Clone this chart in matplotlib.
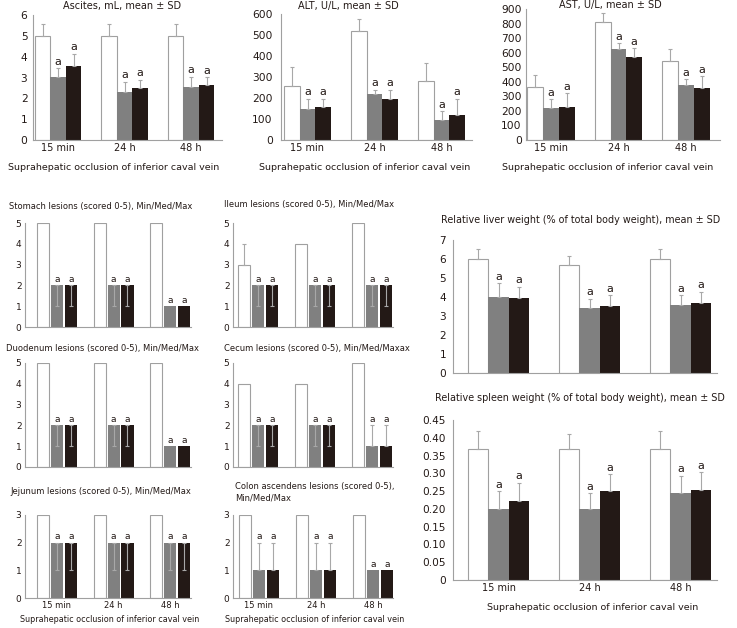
import numpy as np
import matplotlib
matplotlib.use("Agg")
import matplotlib.pyplot as plt

plt.rcParams['font.family'] = ['DejaVu Sans']

W, H = 737, 628
DPI = 100

groups = ['15 min', '24 h', '48 h']
xlabel = 'Suprahepatic occlusion of inferior caval vein'

# mean ± SD panels: control (white), group 2 (grey), group 3 (black)
ascites_ctrl = [5.0, 5.0, 5.0]
ascites_ctrl_sd = [0.55, 0.55, 0.55]
ascites_g2 = [3.0, 2.3, 2.52]
ascites_g2_sd = [0.44, 0.5, 0.52]
ascites_g3 = [3.57, 2.5, 2.62]
ascites_g3_sd = [0.58, 0.4, 0.4]

alt_ctrl = [255, 517, 282]
alt_ctrl_sd = [90, 57, 85]
alt_g2 = [145, 217, 93]
alt_g2_sd = [51, 22, 43]
alt_g3 = [156, 195, 115]
alt_g3_sd = [40, 44, 81]

ast_ctrl = [363, 815, 542]
ast_ctrl_sd = [87, 62, 82]
ast_g2 = [218, 624, 376]
ast_g2_sd = [62, 42, 42]
ast_g3 = [230, 569, 360]
ast_g3_sd = [91, 62, 81]

liver_ctrl = [6.02, 5.66, 6.0]
liver_ctrl_sd = [0.48, 0.5, 0.55]
liver_g2 = [4.02, 3.4, 3.59]
liver_g2_sd = [0.72, 0.52, 0.52]
liver_g3 = [3.95, 3.52, 3.68]
liver_g3_sd = [0.6, 0.58, 0.59]

spleen_ctrl = [0.368, 0.368, 0.368]
spleen_ctrl_sd = [0.051, 0.042, 0.051]
spleen_g2 = [0.201, 0.201, 0.244]
spleen_g2_sd = [0.048, 0.043, 0.049]
spleen_g3 = [0.222, 0.251, 0.253]
spleen_g3_sd = [0.052, 0.046, 0.05]

# lesion scores: median with min/max
stomach_ctrl = [5, 5, 5]
stomach_g2, stomach_g2_min, stomach_g2_max = [2, 2, 1], [1, 1, 1], [2, 2, 1]
stomach_g3, stomach_g3_min, stomach_g3_max = [2, 2, 1], [1, 1, 1], [2, 2, 1]

ileum_ctrl, ileum_ctrl_max = [3, 4, 5], [4, 4, 5]
ileum_g2, ileum_g2_min, ileum_g2_max = [2, 2, 2], [1, 1, 1], [2, 2, 2]
ileum_g3, ileum_g3_min, ileum_g3_max = [2, 2, 2], [1, 1, 1], [2, 2, 2]

duodenum_ctrl = [5, 5, 5]
duodenum_g2, duodenum_g2_min, duodenum_g2_max = [2, 2, 1], [1, 1, 1], [2, 2, 1]
duodenum_g3, duodenum_g3_min, duodenum_g3_max = [2, 2, 1], [1, 1, 1], [2, 2, 1]

cecum_ctrl = [4, 4, 5]
cecum_g2, cecum_g2_min, cecum_g2_max = [2, 2, 1], [1, 1, 1], [2, 2, 2]
cecum_g3, cecum_g3_min, cecum_g3_max = [2, 2, 1], [1, 1, 1], [2, 2, 2]

jejunum_ctrl = [3, 3, 3]
jejunum_g2, jejunum_g2_min, jejunum_g2_max = [2, 2, 2], [1, 1, 1], [2, 2, 2]
jejunum_g3, jejunum_g3_min, jejunum_g3_max = [2, 2, 2], [1, 1, 1], [2, 2, 2]

colon_ctrl = [3, 3, 3]
colon_g2, colon_g2_min, colon_g2_max = [1, 1, 1], [1, 1, 1], [2, 2, 1]
colon_g3, colon_g3_min, colon_g3_max = [1, 1, 1], [1, 1, 1], [2, 2, 1]

WHITE = '#ffffff'
GREY = '#808080'
BLACK = '#231916'
EDGE = '#a0a0a0'
ERR = '#a8a8a8'
SPINE = '#a0a0a0'
INK = '#231916'

fig = plt.figure(figsize=(W / DPI, H / DPI), dpi=DPI)


def px_axes(x0, x1, ytop, ybot):
    # pixel box (top-left origin) -> figure fraction
    return fig.add_axes([x0 / W, 1 - ybot / H, (x1 - x0) / W, (ybot - ytop) / H])


def ftext(x, y, s, size, ha='center'):
    fig.text(x / W, 1 - y / H, s, ha=ha, va='center', fontsize=size, color=INK)


def panel(box, c0, step, bw, gap, ymax, yticks, series, yfs, xfs, a_fs, ypad,
          show_x=False, yfmt=None):
    x0, x1, ytop_px, ybot = box
    ax = px_axes(x0, x1, ytop_px, ybot)
    pos = np.arange(len(groups))
    w = bw / step
    off = (bw + gap) / step
    colors = [WHITE, GREY, BLACK]
    for k, (vals, lo, hi) in enumerate(series):
        xs = pos + (k - 1) * off
        ax.bar(xs, vals, width=w, color=colors[k],
               edgecolor=EDGE if k == 0 else 'none', linewidth=0.8, zorder=2)
        lo = np.asarray(lo, float)
        hi = np.asarray(hi, float)
        m = (lo + hi) > 0
        if m.any():
            ax.errorbar(xs[m], np.asarray(vals, float)[m], yerr=[lo[m], hi[m]],
                        fmt='none', ecolor=ERR, elinewidth=0.8, capsize=1.5,
                        capthick=0.8, zorder=3)
        if k > 0:
            for x, v, h in zip(xs, vals, hi):
                ax.annotate('a', (x, v + h), xytext=(0, 1), textcoords='offset points',
                            ha='center', va='bottom', fontsize=a_fs, color=INK)
    ax.set_xlim((x0 - c0) / step, (x1 - c0) / step)
    ax.set_ylim(0, ymax)
    ax.set_yticks(yticks)
    if yfmt:
        ax.set_yticklabels([yfmt(t) for t in yticks])
    ax.set_xticks(pos)
    ax.set_xticklabels(groups if show_x else [''] * len(groups))
    for s in ['top', 'right']:
        ax.spines[s].set_visible(False)
    for s in ['left', 'bottom']:
        ax.spines[s].set_color(SPINE)
        ax.spines[s].set_linewidth(0.8)
    ax.tick_params(length=0, colors=INK)
    ax.tick_params(axis='y', pad=ypad, labelsize=yfs)
    ax.tick_params(axis='x', pad=2.5, labelsize=xfs)
    return ax


def sd(vals, s):
    return (vals, [0] * len(vals), s)


def mm(vals, vmin, vmax):
    return (vals, [v - a for v, a in zip(vals, vmin)], [b - v for v, b in zip(vals, vmax)])


# top row
TY, TX = 7.7, 7.0
panel((33, 222, 15, 140), 58, 66.5, 15.5, 0, 6, range(0, 7),
      [sd(ascites_ctrl, ascites_ctrl_sd), sd(ascites_g2, ascites_g2_sd), sd(ascites_g3, ascites_g3_sd)],
      TY, TX, 8, 4, show_x=True)
ftext(122, 6, 'Ascites, mL, mean ± SD', 7)
ftext(114, 167, xlabel, 6.8)

panel((281, 472, 14, 139.5), 307.5, 67, 15.7, 0, 600, range(0, 700, 100),
      [sd(alt_ctrl, alt_ctrl_sd), sd(alt_g2, alt_g2_sd), sd(alt_g3, alt_g3_sd)],
      TY, TX, 8, 6, show_x=True)
ftext(348, 6, 'ALT, U/L, mean ± SD', 7)
ftext(365, 167, xlabel, 6.8)

panel((526, 720, 9.3, 140), 551, 67.5, 15.7, 0, 900, range(0, 1000, 100),
      [sd(ast_ctrl, ast_ctrl_sd), sd(ast_g2, ast_g2_sd), sd(ast_g3, ast_g3_sd)],
      TY, TX, 8, 3, show_x=True)
ftext(610, 5, 'AST, U/L, mean ± SD', 7)
ftext(608, 167, xlabel, 6.8)

# lesion panels
LY, LX = 6.5, 6.0
LT = 6.0
panel((25, 191, 223, 327), 57, 56.5, 12, 2, 5, range(0, 6),
      [mm(stomach_ctrl, stomach_ctrl, stomach_ctrl),
       mm(stomach_g2, stomach_g2_min, stomach_g2_max),
       mm(stomach_g3, stomach_g3_min, stomach_g3_max)], LY, LX, 6.5, 2.5)
ftext(101, 207, 'Stomach lesions (scored 0-5), Min/Med/Max', LT)

panel((233, 393, 223, 327), 258, 57, 12, 2, 5, range(0, 6),
      [mm(ileum_ctrl, ileum_ctrl, ileum_ctrl_max),
       mm(ileum_g2, ileum_g2_min, ileum_g2_max),
       mm(ileum_g3, ileum_g3_min, ileum_g3_max)], LY, LX, 6.5, 2.5)
ftext(309, 205, 'Ileum lesions (scored 0-5), Min/Med/Max', LT)

panel((25, 191, 363, 467), 57, 56.5, 12, 2, 5, range(0, 6),
      [mm(duodenum_ctrl, duodenum_ctrl, duodenum_ctrl),
       mm(duodenum_g2, duodenum_g2_min, duodenum_g2_max),
       mm(duodenum_g3, duodenum_g3_min, duodenum_g3_max)], LY, LX, 6.5, 2.5)
ftext(102, 348, 'Duodenum lesions (scored 0-5), Min/Med/Max', LT)

panel((233, 393, 363, 467), 258, 57, 12, 2, 5, range(0, 6),
      [mm(cecum_ctrl, cecum_ctrl, cecum_ctrl),
       mm(cecum_g2, cecum_g2_min, cecum_g2_max),
       mm(cecum_g3, cecum_g3_min, cecum_g3_max)], LY, LX, 6.5, 2.5)
ftext(317, 348, 'Cecum lesions (scored 0-5), Min/Med/Maxax', LT)

panel((25, 191, 515, 598), 57, 56.5, 12, 2, 3, range(0, 4),
      [mm(jejunum_ctrl, jejunum_ctrl, jejunum_ctrl),
       mm(jejunum_g2, jejunum_g2_min, jejunum_g2_max),
       mm(jejunum_g3, jejunum_g3_min, jejunum_g3_max)], LY, LX, 6.5, 2.5, show_x=True)
ftext(101, 492, 'Jejunum lesions (scored 0-5), Min/Med/Max', LT)
ftext(110, 619, xlabel, 5.8)

panel((233, 393, 515, 598), 259, 57, 12, 2, 3, range(0, 4),
      [mm(colon_ctrl, colon_ctrl, colon_ctrl),
       mm(colon_g2, colon_g2_min, colon_g2_max),
       mm(colon_g3, colon_g3_min, colon_g3_max)], LY, LX, 6.5, 2.5, show_x=True)
ftext(235, 487, 'Colon ascendens lesions (scored 0-5),', LT, ha='left')
ftext(235, 498, 'Min/Med/Max', LT, ha='left')
ftext(315, 619, xlabel, 5.8)

# right column
RY, RX = 7.6, 7.0
panel((453, 717, 240, 373), 498.5, 91, 20.3, 0, 7, range(0, 8),
      [sd(liver_ctrl, liver_ctrl_sd), sd(liver_g2, liver_g2_sd), sd(liver_g3, liver_g3_sd)],
      RY, RX, 8, 5)
ftext(581, 220, 'Relative liver weight (% of total body weight), mean ± SD', 6.9)

spleen_ticks = [round(0.05 * i, 2) for i in range(10)]
panel((453, 717, 420, 580), 498.5, 91, 20.3, 0, 0.45, spleen_ticks,
      [sd(spleen_ctrl, spleen_ctrl_sd), sd(spleen_g2, spleen_g2_sd), sd(spleen_g3, spleen_g3_sd)],
      RY, RX, 8, 5, show_x=True, yfmt=lambda t: '0' if t == 0 else f'{t:.2f}')
ftext(580, 398, 'Relative spleen weight (% of total body weight), mean ± SD', 6.9)
ftext(593, 608, xlabel, 6.8)

fig.savefig('out.png', dpi=DPI)
